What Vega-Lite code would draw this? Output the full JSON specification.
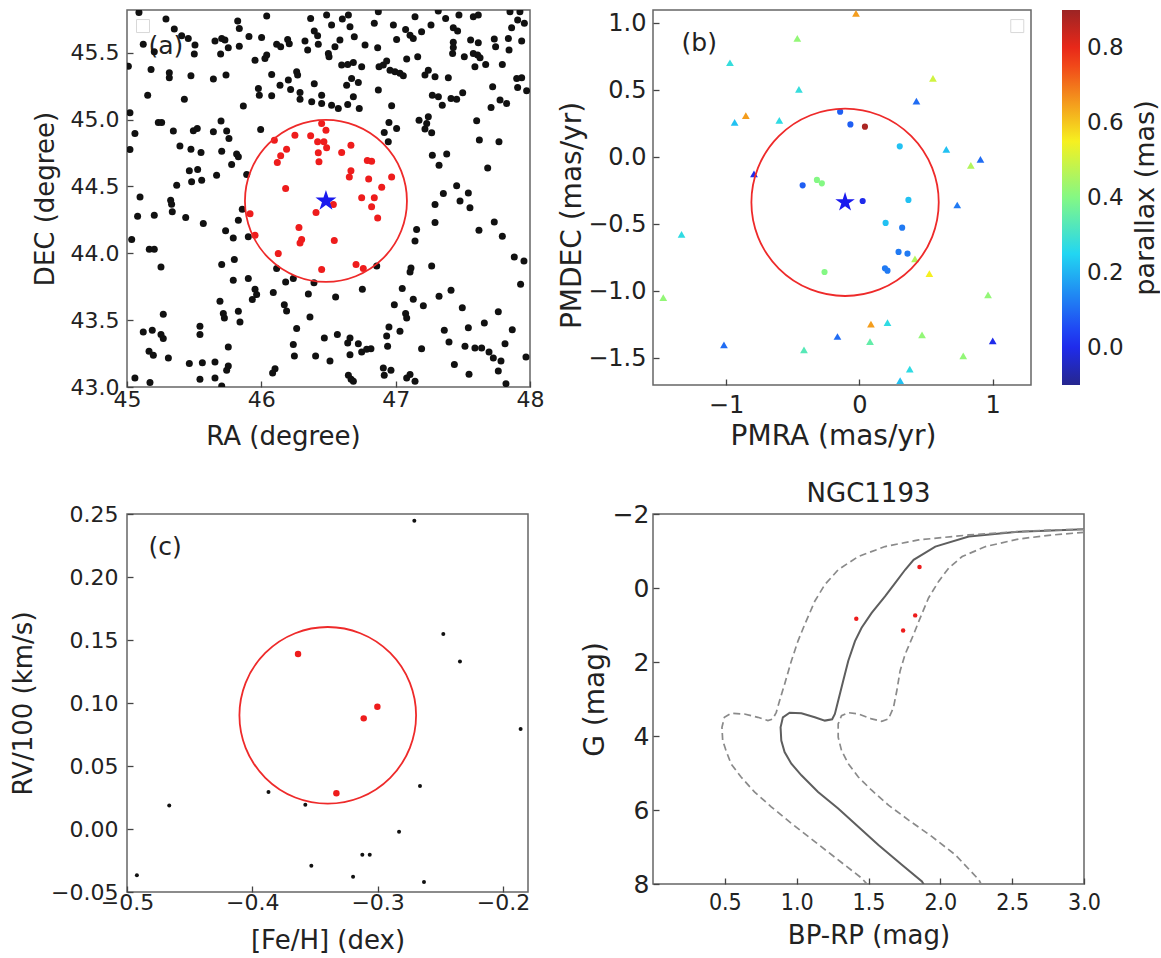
{
"$schema":"https://vega.github.io/schema/vega-lite/v6.json",
"background":"white",
"padding":{"left":9,"top":9,"right":0,"bottom":0},
"config":{
 "font":"DejaVu Sans",
 "view":{"stroke":"#666","strokeWidth":1.5},
 "axis":{"grid":false,"domain":false,"tickColor":"#444","tickWidth":1.3,"tickSize":-6,"labelColor":"#222","titleColor":"#222","titleFontWeight":"normal","labelFlush":false,"labelOverlap":false,"labelFont":"DejaVu Sans","titleFont":"DejaVu Sans"},
 "legend":{"labelFont":"DejaVu Sans","titleFont":"DejaVu Sans"},
 "title":{"font":"DejaVu Sans","fontWeight":"normal","color":"#222"}
},
"datasets":{
 "a_pts":[
{"ra":45.089,"dec":45.802,"m":"f"},{"ra":45.290,"dec":45.752,"m":"f"},{"ra":45.352,"dec":45.677,"m":"f"},{"ra":45.121,"dec":45.563,"m":"f"},{"ra":45.203,"dec":45.508,"m":"f"},{"ra":45.456,"dec":45.607,"m":"f"},{"ra":45.407,"dec":45.627,"m":"f"},{"ra":45.506,"dec":45.558,"m":"f"},{"ra":45.501,"dec":45.490,"m":"f"},{"ra":45.655,"dec":45.588,"m":"f"},
{"ra":45.705,"dec":45.607,"m":"f"},{"ra":45.729,"dec":45.595,"m":"f"},{"ra":45.754,"dec":45.538,"m":"f"},{"ra":45.697,"dec":45.490,"m":"f"},{"ra":45.824,"dec":45.737,"m":"f"},{"ra":45.836,"dec":45.682,"m":"f"},{"ra":45.908,"dec":45.622,"m":"f"},{"ra":45.836,"dec":45.548,"m":"f"},{"ra":46.002,"dec":45.615,"m":"f"},{"ra":46.040,"dec":45.775,"m":"f"},
{"ra":46.114,"dec":45.563,"m":"f"},{"ra":46.144,"dec":45.545,"m":"f"},{"ra":46.196,"dec":45.600,"m":"f"},{"ra":46.208,"dec":45.568,"m":"f"},{"ra":46.325,"dec":45.588,"m":"f"},{"ra":46.345,"dec":45.520,"m":"f"},{"ra":46.367,"dec":45.757,"m":"f"},{"ra":46.394,"dec":45.662,"m":"f"},{"ra":46.419,"dec":45.627,"m":"f"},{"ra":46.424,"dec":45.563,"m":"f"},
{"ra":46.040,"dec":45.483,"m":"f"},{"ra":46.027,"dec":45.458,"m":"f"},{"ra":45.953,"dec":45.445,"m":"f"},{"ra":45.010,"dec":45.400,"m":"f"},{"ra":45.179,"dec":45.375,"m":"f"},{"ra":45.315,"dec":45.350,"m":"f"},{"ra":45.315,"dec":45.313,"m":"f"},{"ra":45.476,"dec":45.328,"m":"f"},{"ra":45.643,"dec":45.303,"m":"f"},{"ra":45.737,"dec":45.333,"m":"f"},
{"ra":46.077,"dec":45.338,"m":"f"},{"ra":46.139,"dec":45.258,"m":"f"},{"ra":46.201,"dec":45.296,"m":"f"},{"ra":46.263,"dec":45.358,"m":"f"},{"ra":46.270,"dec":45.333,"m":"f"},{"ra":46.218,"dec":45.226,"m":"f"},{"ra":45.978,"dec":45.233,"m":"f"},{"ra":45.985,"dec":45.183,"m":"f"},{"ra":46.077,"dec":45.178,"m":"f"},{"ra":46.288,"dec":45.203,"m":"f"},
{"ra":46.288,"dec":45.153,"m":"f"},{"ra":46.394,"dec":45.268,"m":"f"},{"ra":46.375,"dec":45.133,"m":"f"},{"ra":46.449,"dec":45.183,"m":"f"},{"ra":46.449,"dec":45.121,"m":"f"},{"ra":45.154,"dec":45.183,"m":"f"},{"ra":45.427,"dec":45.153,"m":"f"},{"ra":45.866,"dec":45.101,"m":"f"},{"ra":45.022,"dec":45.051,"m":"f"},{"ra":45.233,"dec":44.979,"m":"f"},
{"ra":45.258,"dec":44.979,"m":"f"},{"ra":45.345,"dec":44.914,"m":"f"},{"ra":45.494,"dec":44.916,"m":"f"},{"ra":45.523,"dec":44.934,"m":"f"},{"ra":45.643,"dec":44.909,"m":"f"},{"ra":45.700,"dec":44.989,"m":"f"},{"ra":45.742,"dec":44.914,"m":"f"},{"ra":45.759,"dec":44.859,"m":"f"},{"ra":45.995,"dec":44.926,"m":"f"},{"ra":45.059,"dec":44.896,"m":"f"},
{"ra":45.022,"dec":44.777,"m":"f"},{"ra":45.394,"dec":44.802,"m":"f"},{"ra":45.476,"dec":44.779,"m":"f"},{"ra":45.551,"dec":44.754,"m":"f"},{"ra":45.705,"dec":44.764,"m":"f"},{"ra":45.816,"dec":44.742,"m":"f"},{"ra":45.829,"dec":44.722,"m":"f"},{"ra":45.779,"dec":44.664,"m":"f"},{"ra":45.464,"dec":44.617,"m":"f"},{"ra":45.526,"dec":44.627,"m":"f"},
{"ra":45.556,"dec":44.547,"m":"f"},{"ra":45.481,"dec":44.535,"m":"f"},{"ra":45.370,"dec":44.510,"m":"f"},{"ra":45.667,"dec":44.584,"m":"f"},{"ra":45.891,"dec":44.589,"m":"f"},
{"ra":46.486,"dec":45.782,"m":"f"},{"ra":46.523,"dec":45.707,"m":"f"},{"ra":46.603,"dec":45.752,"m":"f"},{"ra":46.648,"dec":45.782,"m":"f"},{"ra":46.660,"dec":45.695,"m":"f"},{"ra":46.692,"dec":45.620,"m":"f"},{"ra":46.585,"dec":45.595,"m":"f"},{"ra":46.548,"dec":45.545,"m":"f"},{"ra":46.499,"dec":45.495,"m":"f"},{"ra":46.504,"dec":45.470,"m":"f"},
{"ra":46.772,"dec":45.558,"m":"f"},{"ra":46.841,"dec":45.720,"m":"f"},{"ra":46.871,"dec":45.807,"m":"f"},{"ra":46.866,"dec":45.538,"m":"f"},{"ra":46.983,"dec":45.707,"m":"f"},{"ra":47.007,"dec":45.600,"m":"f"},{"ra":47.074,"dec":45.675,"m":"f"},{"ra":47.107,"dec":45.632,"m":"f"},{"ra":47.131,"dec":45.607,"m":"f"},{"ra":47.144,"dec":45.770,"m":"f"},
{"ra":47.193,"dec":45.657,"m":"f"},{"ra":47.263,"dec":45.707,"m":"f"},{"ra":47.317,"dec":45.812,"m":"f"},{"ra":47.372,"dec":45.757,"m":"f"},{"ra":47.429,"dec":45.687,"m":"f"},{"ra":47.461,"dec":45.662,"m":"f"},{"ra":47.471,"dec":45.782,"m":"f"},{"ra":47.578,"dec":45.770,"m":"f"},{"ra":47.615,"dec":45.782,"m":"f"},{"ra":47.558,"dec":45.595,"m":"f"},
{"ra":47.615,"dec":45.575,"m":"f"},{"ra":47.734,"dec":45.603,"m":"f"},{"ra":47.744,"dec":45.545,"m":"f"},{"ra":47.839,"dec":45.607,"m":"f"},{"ra":47.851,"dec":45.807,"m":"f"},{"ra":47.844,"dec":45.520,"m":"f"},{"ra":47.863,"dec":45.687,"m":"f"},{"ra":47.908,"dec":45.745,"m":"f"},{"ra":47.925,"dec":45.807,"m":"f"},{"ra":47.958,"dec":45.720,"m":"f"},
{"ra":47.938,"dec":45.588,"m":"f"},{"ra":47.429,"dec":45.578,"m":"f"},{"ra":47.429,"dec":45.540,"m":"f"},{"ra":47.424,"dec":45.495,"m":"f"},{"ra":47.511,"dec":45.470,"m":"f"},{"ra":47.578,"dec":45.495,"m":"f"},{"ra":47.610,"dec":45.483,"m":"f"},{"ra":47.628,"dec":45.463,"m":"f"},{"ra":47.590,"dec":45.395,"m":"f"},{"ra":47.670,"dec":45.413,"m":"f"},
{"ra":47.794,"dec":45.413,"m":"f"},{"ra":46.598,"dec":45.408,"m":"f"},{"ra":46.643,"dec":45.413,"m":"f"},{"ra":46.685,"dec":45.428,"m":"f"},{"ra":46.747,"dec":45.395,"m":"f"},{"ra":46.672,"dec":45.308,"m":"f"},{"ra":46.722,"dec":45.278,"m":"f"},{"ra":46.635,"dec":45.258,"m":"f"},{"ra":46.876,"dec":45.395,"m":"f"},{"ra":46.908,"dec":45.408,"m":"f"},
{"ra":46.933,"dec":45.438,"m":"f"},{"ra":46.958,"dec":45.370,"m":"f"},{"ra":46.995,"dec":45.358,"m":"f"},{"ra":47.032,"dec":45.346,"m":"f"},{"ra":47.057,"dec":45.328,"m":"f"},{"ra":47.082,"dec":45.453,"m":"f"},{"ra":47.164,"dec":45.470,"m":"f"},{"ra":47.218,"dec":45.333,"m":"f"},{"ra":47.243,"dec":45.370,"m":"f"},{"ra":47.293,"dec":45.321,"m":"f"},
{"ra":47.392,"dec":45.313,"m":"f"},{"ra":46.871,"dec":45.221,"m":"f"},{"ra":46.523,"dec":45.108,"m":"f"},{"ra":46.573,"dec":45.084,"m":"f"},{"ra":46.643,"dec":45.113,"m":"f"},{"ra":46.685,"dec":45.171,"m":"f"},{"ra":46.729,"dec":45.084,"m":"f"},{"ra":46.970,"dec":45.103,"m":"f"},{"ra":47.273,"dec":45.183,"m":"f"},{"ra":47.318,"dec":45.171,"m":"f"},
{"ra":47.347,"dec":45.108,"m":"f"},{"ra":47.412,"dec":45.158,"m":"f"},{"ra":47.454,"dec":45.153,"m":"f"},{"ra":47.499,"dec":45.201,"m":"f"},{"ra":47.722,"dec":45.246,"m":"f"},{"ra":47.710,"dec":45.091,"m":"f"},{"ra":47.777,"dec":45.146,"m":"f"},{"ra":47.826,"dec":45.121,"m":"f"},{"ra":47.901,"dec":45.308,"m":"f"},{"ra":47.938,"dec":45.313,"m":"f"},
{"ra":47.908,"dec":45.241,"m":"f"},{"ra":47.975,"dec":45.216,"m":"f"},{"ra":47.603,"dec":44.991,"m":"f"},{"ra":47.243,"dec":45.021,"m":"f"},{"ra":47.174,"dec":44.996,"m":"f"},{"ra":47.231,"dec":44.971,"m":"f"},{"ra":47.218,"dec":44.929,"m":"f"},{"ra":47.268,"dec":44.901,"m":"f"},{"ra":46.950,"dec":44.979,"m":"f"},{"ra":47.007,"dec":44.934,"m":"f"},
{"ra":46.915,"dec":44.904,"m":"f"},{"ra":46.945,"dec":44.834,"m":"f"},{"ra":47.623,"dec":44.847,"m":"f"},{"ra":47.769,"dec":44.834,"m":"f"},{"ra":47.273,"dec":44.734,"m":"f"},{"ra":47.380,"dec":44.742,"m":"f"},{"ra":47.323,"dec":44.659,"m":"f"},{"ra":47.685,"dec":44.639,"m":"f"},{"ra":47.355,"dec":44.447,"m":"f"},{"ra":47.454,"dec":44.505,"m":"f"},
{"ra":47.541,"dec":44.452,"m":"f"},
{"ra":45.097,"dec":44.422,"m":"f"},{"ra":45.325,"dec":44.397,"m":"f"},{"ra":45.332,"dec":44.367,"m":"f"},{"ra":45.337,"dec":44.310,"m":"f"},{"ra":45.079,"dec":44.278,"m":"f"},{"ra":45.203,"dec":44.285,"m":"f"},{"ra":45.437,"dec":44.268,"m":"f"},{"ra":45.568,"dec":44.223,"m":"f"},{"ra":45.858,"dec":44.330,"m":"f"},{"ra":45.829,"dec":44.248,"m":"f"},
{"ra":45.734,"dec":44.168,"m":"f"},{"ra":45.791,"dec":44.115,"m":"f"},{"ra":45.035,"dec":44.103,"m":"f"},{"ra":45.166,"dec":44.031,"m":"f"},{"ra":45.203,"dec":44.031,"m":"f"},{"ra":45.253,"dec":43.898,"m":"f"},{"ra":45.705,"dec":43.916,"m":"f"},{"ra":45.799,"dec":43.953,"m":"f"},{"ra":45.791,"dec":43.798,"m":"f"},{"ra":45.903,"dec":44.123,"m":"f"},
{"ra":45.903,"dec":43.811,"m":"f"},{"ra":45.953,"dec":43.731,"m":"f"},{"ra":45.965,"dec":43.691,"m":"f"},{"ra":45.933,"dec":43.654,"m":"f"},{"ra":46.114,"dec":43.886,"m":"f"},{"ra":46.089,"dec":43.706,"m":"f"},{"ra":46.181,"dec":43.786,"m":"f"},{"ra":46.238,"dec":43.811,"m":"f"},{"ra":46.392,"dec":43.779,"m":"f"},{"ra":46.350,"dec":43.696,"m":"f"},
{"ra":45.692,"dec":43.641,"m":"f"},{"ra":45.717,"dec":43.549,"m":"f"},{"ra":45.725,"dec":43.516,"m":"f"},{"ra":45.829,"dec":43.567,"m":"f"},{"ra":45.841,"dec":43.487,"m":"f"},{"ra":46.171,"dec":43.616,"m":"f"},{"ra":46.188,"dec":43.569,"m":"f"},{"ra":46.362,"dec":43.524,"m":"f"},{"ra":45.270,"dec":43.544,"m":"f"},{"ra":45.543,"dec":43.454,"m":"f"},
{"ra":45.543,"dec":43.392,"m":"f"},{"ra":45.121,"dec":43.412,"m":"f"},{"ra":45.188,"dec":43.424,"m":"f"},{"ra":45.253,"dec":43.392,"m":"f"},{"ra":45.270,"dec":43.362,"m":"f"},{"ra":45.164,"dec":43.267,"m":"f"},{"ra":45.196,"dec":43.237,"m":"f"},{"ra":45.308,"dec":43.217,"m":"f"},{"ra":45.754,"dec":43.300,"m":"f"},{"ra":45.464,"dec":43.175,"m":"f"},
{"ra":45.561,"dec":43.182,"m":"f"},{"ra":45.655,"dec":43.187,"m":"f"},{"ra":45.754,"dec":43.157,"m":"f"},{"ra":45.742,"dec":43.125,"m":"f"},{"ra":46.263,"dec":43.437,"m":"f"},{"ra":46.469,"dec":43.367,"m":"f"},{"ra":46.238,"dec":43.317,"m":"f"},{"ra":46.246,"dec":43.232,"m":"f"},{"ra":46.404,"dec":43.232,"m":"f"},{"ra":46.102,"dec":43.137,"m":"f"},
{"ra":46.084,"dec":43.105,"m":"f"},{"ra":45.059,"dec":43.068,"m":"f"},{"ra":45.171,"dec":43.033,"m":"f"},{"ra":45.543,"dec":43.058,"m":"f"},{"ra":45.655,"dec":43.068,"m":"f"},{"ra":45.705,"dec":43.008,"m":"f"},
{"ra":47.293,"dec":44.365,"m":"f"},{"ra":47.479,"dec":44.392,"m":"f"},{"ra":47.553,"dec":44.340,"m":"f"},{"ra":47.293,"dec":44.230,"m":"f"},{"ra":47.156,"dec":44.178,"m":"f"},{"ra":47.144,"dec":44.093,"m":"f"},{"ra":47.620,"dec":44.173,"m":"f"},{"ra":47.734,"dec":44.235,"m":"f"},{"ra":47.794,"dec":44.128,"m":"f"},{"ra":47.883,"dec":43.973,"m":"f"},
{"ra":47.955,"dec":43.943,"m":"f"},{"ra":47.930,"dec":43.769,"m":"f"},{"ra":46.859,"dec":43.906,"m":"f"},{"ra":47.114,"dec":43.891,"m":"f"},{"ra":47.107,"dec":43.861,"m":"f"},{"ra":47.268,"dec":43.906,"m":"f"},{"ra":46.752,"dec":43.731,"m":"f"},{"ra":46.553,"dec":43.674,"m":"f"},{"ra":47.049,"dec":43.736,"m":"f"},{"ra":47.131,"dec":43.656,"m":"f"},
{"ra":46.990,"dec":43.616,"m":"f"},{"ra":47.206,"dec":43.607,"m":"f"},{"ra":47.323,"dec":43.679,"m":"f"},{"ra":47.412,"dec":43.724,"m":"f"},{"ra":47.496,"dec":43.592,"m":"f"},{"ra":47.074,"dec":43.549,"m":"f"},{"ra":47.082,"dec":43.516,"m":"f"},{"ra":47.764,"dec":43.562,"m":"f"},{"ra":46.950,"dec":43.449,"m":"f"},{"ra":47.032,"dec":43.417,"m":"f"},
{"ra":46.933,"dec":43.382,"m":"f"},{"ra":46.940,"dec":43.305,"m":"f"},{"ra":47.362,"dec":43.424,"m":"f"},{"ra":47.541,"dec":43.444,"m":"f"},{"ra":47.660,"dec":43.479,"m":"f"},{"ra":47.868,"dec":43.429,"m":"f"},{"ra":47.397,"dec":43.337,"m":"f"},{"ra":47.516,"dec":43.305,"m":"f"},{"ra":47.590,"dec":43.292,"m":"f"},{"ra":47.640,"dec":43.292,"m":"f"},
{"ra":47.695,"dec":43.262,"m":"f"},{"ra":47.727,"dec":43.217,"m":"f"},{"ra":47.814,"dec":43.324,"m":"f"},{"ra":47.784,"dec":43.195,"m":"f"},{"ra":46.566,"dec":43.392,"m":"f"},{"ra":46.660,"dec":43.367,"m":"f"},{"ra":46.643,"dec":43.330,"m":"f"},{"ra":46.722,"dec":43.324,"m":"f"},{"ra":46.747,"dec":43.262,"m":"f"},{"ra":46.784,"dec":43.282,"m":"f"},
{"ra":46.816,"dec":43.287,"m":"f"},{"ra":46.660,"dec":43.242,"m":"f"},{"ra":47.193,"dec":43.287,"m":"f"},{"ra":46.511,"dec":43.195,"m":"f"},{"ra":47.970,"dec":43.225,"m":"f"},{"ra":47.437,"dec":43.168,"m":"f"},{"ra":47.764,"dec":43.120,"m":"f"},{"ra":47.546,"dec":43.095,"m":"f"},{"ra":46.908,"dec":43.142,"m":"f"},{"ra":46.965,"dec":43.125,"m":"f"},
{"ra":46.915,"dec":43.088,"m":"f"},{"ra":46.648,"dec":43.088,"m":"f"},{"ra":46.668,"dec":43.058,"m":"f"},{"ra":46.685,"dec":43.043,"m":"f"},{"ra":47.082,"dec":43.068,"m":"f"},{"ra":47.107,"dec":43.093,"m":"f"},{"ra":47.144,"dec":43.043,"m":"f"},{"ra":47.821,"dec":43.025,"m":"f"},
{"ra":46.449,"dec":44.971,"m":"c"},{"ra":46.481,"dec":44.921,"m":"c"},{"ra":46.097,"dec":44.846,"m":"c"},{"ra":46.250,"dec":44.884,"m":"c"},{"ra":46.367,"dec":44.879,"m":"c"},{"ra":46.419,"dec":44.834,"m":"c"},{"ra":46.466,"dec":44.834,"m":"c"},{"ra":46.486,"dec":44.789,"m":"c"},{"ra":46.188,"dec":44.779,"m":"c"},{"ra":46.144,"dec":44.729,"m":"c"},
{"ra":46.119,"dec":44.679,"m":"c"},{"ra":46.424,"dec":44.752,"m":"c"},{"ra":46.429,"dec":44.684,"m":"c"},{"ra":46.598,"dec":44.754,"m":"c"},{"ra":46.667,"dec":44.809,"m":"c"},{"ra":46.789,"dec":44.694,"m":"c"},{"ra":46.821,"dec":44.689,"m":"c"},{"ra":46.667,"dec":44.617,"m":"c"},{"ra":46.655,"dec":44.570,"m":"c"},{"ra":46.799,"dec":44.555,"m":"c"},
{"ra":46.970,"dec":44.570,"m":"c"},{"ra":46.896,"dec":44.495,"m":"c"},{"ra":46.181,"dec":44.485,"m":"c"},{"ra":46.747,"dec":44.415,"m":"c"},{"ra":46.841,"dec":44.415,"m":"c"},{"ra":46.821,"dec":44.348,"m":"c"},{"ra":46.866,"dec":44.265,"m":"c"},{"ra":46.536,"dec":44.365,"m":"c"},{"ra":46.407,"dec":44.305,"m":"c"},{"ra":45.916,"dec":44.295,"m":"c"},
{"ra":45.953,"dec":44.135,"m":"c"},{"ra":46.280,"dec":44.193,"m":"c"},{"ra":46.300,"dec":44.103,"m":"c"},{"ra":46.288,"dec":44.078,"m":"c"},{"ra":46.543,"dec":44.096,"m":"c"},{"ra":46.126,"dec":43.998,"m":"c"},{"ra":46.449,"dec":43.878,"m":"c"},{"ra":46.705,"dec":43.916,"m":"c"},{"ra":46.759,"dec":43.886,"m":"c"}
 ],
 "a_ctr":[{"ra":46.481,"dec":44.392}],
 "b_pts":[
{"pmra":-0.025,"pmdec":1.075,"plx":0.65,"k":"f"},{"pmra":-0.465,"pmdec":0.888,"plx":0.42,"k":"f"},{"pmra":-0.97,"pmdec":0.706,"plx":0.28,"k":"f"},{"pmra":-0.453,"pmdec":0.507,"plx":0.28,"k":"f"},{"pmra":0.552,"pmdec":0.59,"plx":0.5,"k":"f"},{"pmra":0.428,"pmdec":0.42,"plx":0.1,"k":"f"},{"pmra":-0.851,"pmdec":0.311,"plx":0.65,"k":"f"},{"pmra":-0.935,"pmdec":0.261,"plx":0.22,"k":"f"},{"pmra":-0.6,"pmdec":0.276,"plx":0.27,"k":"f"},{"pmra":0.652,"pmdec":0.06,"plx":0.22,"k":"f"},
{"pmra":0.908,"pmdec":-0.015,"plx":0.1,"k":"f"},{"pmra":0.836,"pmdec":-0.06,"plx":0.46,"k":"f"},{"pmra":-0.79,"pmdec":-0.124,"plx":0.0,"k":"f"},{"pmra":0.734,"pmdec":-0.356,"plx":0.12,"k":"f"},{"pmra":-1.333,"pmdec":-0.575,"plx":0.27,"k":"f"},{"pmra":0.417,"pmdec":-0.759,"plx":0.46,"k":"f"},{"pmra":0.525,"pmdec":-0.868,"plx":0.55,"k":"f"},{"pmra":-1.47,"pmdec":-1.047,"plx":0.42,"k":"f"},{"pmra":0.965,"pmdec":-1.027,"plx":0.42,"k":"f"},{"pmra":0.087,"pmdec":-1.246,"plx":0.65,"k":"f"},
{"pmra":0.211,"pmdec":-1.234,"plx":0.27,"k":"f"},{"pmra":-0.164,"pmdec":-1.338,"plx":0.1,"k":"f"},{"pmra":0.47,"pmdec":-1.326,"plx":0.42,"k":"f"},{"pmra":-1.015,"pmdec":-1.4,"plx":0.1,"k":"f"},{"pmra":-0.415,"pmdec":-1.438,"plx":0.33,"k":"f"},{"pmra":0.08,"pmdec":-1.376,"plx":0.35,"k":"f"},{"pmra":1.0,"pmdec":-1.371,"plx":0.0,"k":"f"},{"pmra":0.779,"pmdec":-1.483,"plx":0.42,"k":"f"},{"pmra":0.378,"pmdec":-1.582,"plx":0.27,"k":"f"},{"pmra":0.306,"pmdec":-1.667,"plx":0.22,"k":"f"},
{"pmra":-0.144,"pmdec":0.341,"plx":0.08,"k":"c"},{"pmra":-0.067,"pmdec":0.246,"plx":0.08,"k":"c"},{"pmra":0.042,"pmdec":0.229,"plx":0.88,"k":"c"},{"pmra":0.303,"pmdec":0.082,"plx":0.22,"k":"c"},{"pmra":-0.425,"pmdec":-0.209,"plx":0.08,"k":"c"},{"pmra":-0.318,"pmdec":-0.169,"plx":0.4,"k":"c"},{"pmra":-0.281,"pmdec":-0.194,"plx":0.4,"k":"c"},{"pmra":0.025,"pmdec":-0.326,"plx":0.0,"k":"c"},{"pmra":0.368,"pmdec":-0.318,"plx":0.22,"k":"c"},{"pmra":0.197,"pmdec":-0.49,"plx":0.22,"k":"c"},
{"pmra":0.321,"pmdec":-0.525,"plx":0.12,"k":"c"},{"pmra":0.294,"pmdec":-0.706,"plx":0.12,"k":"c"},{"pmra":0.361,"pmdec":-0.719,"plx":0.12,"k":"c"},{"pmra":0.192,"pmdec":-0.828,"plx":0.12,"k":"c"},{"pmra":0.211,"pmdec":-0.846,"plx":0.12,"k":"c"},{"pmra":-0.261,"pmdec":-0.856,"plx":0.4,"k":"c"}
 ],
 "b_ctr":[{"pmra":-0.107,"pmdec":-0.336}],
 "c_pts":[
{"feh":-0.2707,"rv":0.2447,"m":"f"},{"feh":-0.2476,"rv":0.1548,"m":"f"},{"feh":-0.2343,"rv":0.133,"m":"f"},{"feh":-0.1859,"rv":0.0794,"m":"f"},{"feh":-0.2662,"rv":0.0341,"m":"f"},{"feh":-0.3871,"rv":0.0294,"m":"f"},{"feh":-0.4663,"rv":0.0187,"m":"f"},{"feh":-0.3577,"rv":0.0193,"m":"f"},{"feh":-0.2829,"rv":-0.0021,"m":"f"},{"feh":-0.3122,"rv":-0.0204,"m":"f"},
{"feh":-0.3063,"rv":-0.0204,"m":"f"},{"feh":-0.3529,"rv":-0.0291,"m":"f"},{"feh":-0.4921,"rv":-0.0368,"m":"f"},{"feh":-0.3196,"rv":-0.0379,"m":"f"},{"feh":-0.263,"rv":-0.0421,"m":"f"},
{"feh":-0.3635,"rv":0.1389,"m":"c"},{"feh":-0.3002,"rv":0.0971,"m":"c"},{"feh":-0.3111,"rv":0.0878,"m":"c"},{"feh":-0.3329,"rv":0.0283,"m":"c"}
 ],
 "c_ctr":[{"feh":-0.3398,"rv":0.0902}],
 "d_iso":[
{"c":3.0,"g":-1.59,"s":"mid","i":0},{"c":2.548,"g":-1.523,"s":"mid","i":1},{"c":2.198,"g":-1.389,"s":"mid","i":2},{"c":1.965,"g":-1.12,"s":"mid","i":3},{"c":1.814,"g":-0.762,"s":"mid","i":4},{"c":1.755,"g":-0.493,"s":"mid","i":5},{"c":1.685,"g":-0.134,"s":"mid","i":6},{"c":1.615,"g":0.224,"s":"mid","i":7},{"c":1.522,"g":0.672,"s":"mid","i":8},{"c":1.452,"g":1.075,"s":"mid","i":9},
{"c":1.406,"g":1.434,"s":"mid","i":10},{"c":1.359,"g":1.971,"s":"mid","i":11},{"c":1.324,"g":2.509,"s":"mid","i":12},{"c":1.289,"g":3.047,"s":"mid","i":13},{"c":1.266,"g":3.405,"s":"mid","i":14},{"c":1.247,"g":3.548,"s":"mid","i":15},{"c":1.196,"g":3.584,"s":"mid","i":16},{"c":1.126,"g":3.495,"s":"mid","i":17},{"c":1.033,"g":3.387,"s":"mid","i":18},{"c":0.951,"g":3.369,"s":"mid","i":19},
{"c":0.904,"g":3.495,"s":"mid","i":20},{"c":0.888,"g":3.763,"s":"mid","i":21},{"c":0.893,"g":4.122,"s":"mid","i":22},{"c":0.916,"g":4.435,"s":"mid","i":23},{"c":0.963,"g":4.749,"s":"mid","i":24},{"c":1.033,"g":5.063,"s":"mid","i":25},{"c":1.149,"g":5.511,"s":"mid","i":26},{"c":1.289,"g":5.959,"s":"mid","i":27},{"c":1.429,"g":6.452,"s":"mid","i":28},{"c":1.569,"g":6.944,"s":"mid","i":29},
{"c":1.732,"g":7.482,"s":"mid","i":30},{"c":1.872,"g":7.93,"s":"mid","i":31},{"c":1.89,"g":8.05,"s":"mid","i":32},
{"c":3.0,"g":-1.586,"s":"lo","i":0},{"c":2.781,"g":-1.568,"s":"lo","i":1},{"c":2.548,"g":-1.523,"s":"lo","i":2},{"c":2.198,"g":-1.434,"s":"lo","i":3},{"c":1.848,"g":-1.299,"s":"lo","i":4},{"c":1.615,"g":-1.12,"s":"lo","i":5},{"c":1.429,"g":-0.851,"s":"lo","i":6},{"c":1.289,"g":-0.493,"s":"lo","i":7},{"c":1.196,"g":-0.09,"s":"lo","i":8},{"c":1.126,"g":0.358,"s":"lo","i":9},
{"c":1.056,"g":0.986,"s":"lo","i":10},{"c":1.009,"g":1.434,"s":"lo","i":11},{"c":0.963,"g":1.971,"s":"lo","i":12},{"c":0.916,"g":2.599,"s":"lo","i":13},{"c":0.881,"g":3.047,"s":"lo","i":14},{"c":0.858,"g":3.36,"s":"lo","i":15},{"c":0.834,"g":3.539,"s":"lo","i":16},{"c":0.8,"g":3.584,"s":"lo","i":17},{"c":0.73,"g":3.495,"s":"lo","i":18},{"c":0.636,"g":3.405,"s":"lo","i":19},
{"c":0.543,"g":3.387,"s":"lo","i":20},{"c":0.497,"g":3.495,"s":"lo","i":21},{"c":0.48,"g":3.763,"s":"lo","i":22},{"c":0.485,"g":4.122,"s":"lo","i":23},{"c":0.508,"g":4.391,"s":"lo","i":24},{"c":0.543,"g":4.749,"s":"lo","i":25},{"c":0.613,"g":5.108,"s":"lo","i":26},{"c":0.706,"g":5.511,"s":"lo","i":27},{"c":0.823,"g":5.914,"s":"lo","i":28},{"c":0.963,"g":6.362,"s":"lo","i":29},
{"c":1.126,"g":6.855,"s":"lo","i":30},{"c":1.289,"g":7.348,"s":"lo","i":31},{"c":1.452,"g":7.841,"s":"lo","i":32},{"c":1.5,"g":8.05,"s":"lo","i":33},
{"c":3.0,"g":-1.505,"s":"hi","i":0},{"c":2.781,"g":-1.434,"s":"hi","i":1},{"c":2.548,"g":-1.326,"s":"hi","i":2},{"c":2.315,"g":-1.12,"s":"hi","i":3},{"c":2.152,"g":-0.851,"s":"hi","i":4},{"c":2.058,"g":-0.538,"s":"hi","i":5},{"c":1.988,"g":-0.179,"s":"hi","i":6},{"c":1.918,"g":0.269,"s":"hi","i":7},{"c":1.86,"g":0.806,"s":"hi","i":8},{"c":1.814,"g":1.254,"s":"hi","i":9},
{"c":1.755,"g":1.792,"s":"hi","i":10},{"c":1.72,"g":2.24,"s":"hi","i":11},{"c":1.697,"g":2.778,"s":"hi","i":12},{"c":1.674,"g":3.226,"s":"hi","i":13},{"c":1.639,"g":3.539,"s":"hi","i":14},{"c":1.592,"g":3.602,"s":"hi","i":15},{"c":1.522,"g":3.539,"s":"hi","i":16},{"c":1.429,"g":3.405,"s":"hi","i":17},{"c":1.359,"g":3.369,"s":"hi","i":18},{"c":1.312,"g":3.45,"s":"hi","i":19},
{"c":1.289,"g":3.674,"s":"hi","i":20},{"c":1.289,"g":4.032,"s":"hi","i":21},{"c":1.312,"g":4.391,"s":"hi","i":22},{"c":1.359,"g":4.749,"s":"hi","i":23},{"c":1.429,"g":5.108,"s":"hi","i":24},{"c":1.522,"g":5.466,"s":"hi","i":25},{"c":1.639,"g":5.869,"s":"hi","i":26},{"c":1.779,"g":6.272,"s":"hi","i":27},{"c":1.942,"g":6.72,"s":"hi","i":28},{"c":2.105,"g":7.213,"s":"hi","i":29},
{"c":2.268,"g":7.885,"s":"hi","i":30},{"c":2.29,"g":8.05,"s":"hi","i":31}
 ],
 "d_pts":[{"c":1.855,"g":-0.57},{"c":1.415,"g":0.83},{"c":1.825,"g":0.74},{"c":1.741,"g":1.15}]
},
"spacing":12,
"resolve":{"legend":{"color":"independent","shape":"independent","size":"independent"}},
"hconcat":[
 {"vconcat":[
  {"width":403,"height":377,
   "layer":[
    {"data":{"values":[{}]},"mark":{"type":"text","text":"(a)","fontSize":25,"color":"#222"},
     "encoding":{
      "x":{"datum":45.29,"type":"quantitative","scale":{"domain":[45,48],"zero":false,"nice":false},
           "axis":{"values":[45,46,47,48],"format":"d","title":"RA (degree)","labelFontSize":22,"titleFontSize":26,"labelPadding":8,"titlePadding":13,"titleX":156}},
      "y":{"datum":45.55,"type":"quantitative","scale":{"domain":[43,45.82],"zero":false,"nice":false},
           "axis":{"values":[43,43.5,44,44.5,45,45.5],"format":".1f","title":"DEC (degree)","labelFontSize":22,"titleFontSize":26,"labelPadding":14,"titlePadding":12}}}},
    {"data":{"values":[{}]},"mark":{"type":"point","shape":"square","size":169,"filled":false,"stroke":"#d8d8d8","strokeWidth":1,"opacity":1},
     "encoding":{"x":{"datum":45.119,"type":"quantitative"},"y":{"datum":45.70,"type":"quantitative"}}},
    {"data":{"name":"a_pts"},"mark":{"type":"point","shape":"circle","filled":true,"size":49,"opacity":1,"clip":true},
     "encoding":{"x":{"field":"ra","type":"quantitative"},"y":{"field":"dec","type":"quantitative"},
      "color":{"field":"m","type":"nominal","scale":{"domain":["f","c"],"range":["#111111","#ee1c1c"]},"legend":null}}},
    {"data":{"name":"a_ctr"},"mark":{"type":"point","shape":"circle","filled":false,"size":26244,"stroke":"#ee2a2a","strokeWidth":1.8,"opacity":1,"clip":true},
     "encoding":{"x":{"field":"ra","type":"quantitative"},"y":{"field":"dec","type":"quantitative"}}},
    {"data":{"name":"a_ctr"},"mark":{"type":"point","shape":"M0,-1L0.2245,-0.309L0.9511,-0.309L0.3633,0.118L0.5878,0.809L0,0.382L-0.5878,0.809L-0.3633,0.118L-0.9511,-0.309L-0.2245,-0.309Z","filled":true,"size":484,"color":"#1a1aee","opacity":1},
     "encoding":{"x":{"field":"ra","type":"quantitative"},"y":{"field":"dec","type":"quantitative"}}}
   ]},
  {"width":401,"height":378,
   "layer":[
    {"data":{"values":[{}]},"mark":{"type":"text","text":"(c)","fontSize":25,"color":"#222"},
     "encoding":{
      "x":{"datum":-0.4695,"type":"quantitative","scale":{"domain":[-0.5,-0.18],"zero":false,"nice":false},
           "axis":{"values":[-0.5,-0.4,-0.3,-0.2],"format":".1f","title":"[Fe/H] (dex)","labelFontSize":22,"titleFontSize":26,"labelPadding":6,"titlePadding":14}},
      "y":{"datum":0.224,"type":"quantitative","scale":{"domain":[-0.05,0.25],"zero":false,"nice":false},
           "axis":{"values":[-0.05,0,0.05,0.1,0.15,0.2,0.25],"format":".2f","title":"RV/100 (km/s)","labelFontSize":22,"titleFontSize":26,"labelPadding":15,"titlePadding":14}}}},
    {"data":{"name":"c_pts"},"mark":{"type":"point","shape":"circle","filled":true,"opacity":1,"clip":true},
     "encoding":{"x":{"field":"feh","type":"quantitative"},"y":{"field":"rv","type":"quantitative"},
      "color":{"field":"m","type":"nominal","scale":{"domain":["f","c"],"range":["#111111","#ee1c1c"]},"legend":null},
      "size":{"field":"m","type":"ordinal","scale":{"domain":["f","c"],"range":[16,42]},"legend":null}}},
    {"data":{"name":"c_ctr"},"mark":{"type":"point","shape":"circle","filled":false,"size":31211,"stroke":"#ee2a2a","strokeWidth":1.8,"opacity":1,"clip":true},
     "encoding":{"x":{"field":"feh","type":"quantitative"},"y":{"field":"rv","type":"quantitative"}}}
   ]}
 ],"spacing":127,"bounds":"flush"},
 {"vconcat":[
  {"width":378,"height":375,
   "layer":[
    {"data":{"values":[{}]},"mark":{"type":"text","text":"(b)","fontSize":25,"color":"#222"},
     "encoding":{
      "x":{"datum":-1.2,"type":"quantitative","scale":{"domain":[-1.547,1.287],"zero":false,"nice":false},
           "axis":{"values":[-1,0,1],"format":"d","title":"PMRA (mas/yr)","labelFontSize":24,"titleFontSize":28,"labelPadding":14,"titlePadding":5,"titleX":180}},
      "y":{"datum":0.857,"type":"quantitative","scale":{"domain":[-1.7,1.1],"zero":false,"nice":false},
           "axis":{"values":[-1.5,-1,-0.5,0,0.5,1],"format":".1f","title":"PMDEC (mas/yr)","labelFontSize":24,"titleFontSize":28,"labelPadding":13,"titlePadding":1,"titleY":205}}}},
    {"data":{"values":[{}]},"mark":{"type":"point","shape":"square","size":169,"filled":false,"stroke":"#d8d8d8","strokeWidth":1,"opacity":1},
     "encoding":{"x":{"datum":1.184,"type":"quantitative"},"y":{"datum":0.98,"type":"quantitative"}}},
    {"data":{"name":"b_pts"},"transform":[{"filter":"datum.k === 'f'"}],
     "mark":{"type":"point","shape":"triangle-up","size":60,"filled":true,"opacity":1,"clip":true},
     "encoding":{"x":{"field":"pmra","type":"quantitative"},"y":{"field":"pmdec","type":"quantitative"},
      "color":{"field":"plx","type":"quantitative",
        "scale":{"domain":[-0.1,0.01,0.25,0.4,0.55,0.79,0.9],"range":["#26268e","#1e2cf4","#22d6f2","#84f884","#f6f020","#f02818","#9c2424"],"interpolate":"rgb"},
        "legend":{"orient":"right","offset":31,"padding":0,"direction":"vertical","gradientLength":375,"gradientThickness":18,"gradientStrokeWidth":0,
          "values":[0,0.2,0.4,0.6,0.8],"format":".1f","labelFontSize":23,"labelColor":"#222","labelOffset":7,
          "title":"parallax (mas)","titleOrient":"right","titleAnchor":"middle","titleFontSize":27,"titleFontWeight":"normal","titleColor":"#222","titlePadding":9,"titleLimit":500,
          "encoding":{"title":{"angle":{"value":-90},"baseline":{"value":"top"}}}}}}},
    {"data":{"name":"b_pts"},"transform":[{"filter":"datum.k === 'c'"}],
     "mark":{"type":"point","shape":"circle","size":38,"filled":true,"opacity":1,"clip":true},
     "encoding":{"x":{"field":"pmra","type":"quantitative"},"y":{"field":"pmdec","type":"quantitative"},
      "color":{"field":"plx","type":"quantitative"}}},
    {"data":{"name":"b_ctr"},"mark":{"type":"point","shape":"circle","filled":false,"size":35100,"stroke":"#ee2a2a","strokeWidth":1.8,"opacity":1,"clip":true},
     "encoding":{"x":{"field":"pmra","type":"quantitative"},"y":{"field":"pmdec","type":"quantitative"}}},
    {"data":{"name":"b_ctr"},"mark":{"type":"point","shape":"M0,-1L0.2245,-0.309L0.9511,-0.309L0.3633,0.118L0.5878,0.809L0,0.382L-0.5878,0.809L-0.3633,0.118L-0.9511,-0.309L-0.2245,-0.309Z","filled":true,"size":420,"color":"#1a1aee","opacity":1},
     "encoding":{"x":{"field":"pmra","type":"quantitative"},"y":{"field":"pmdec","type":"quantitative"}}}
   ]},
  {"width":431,"height":370,
   "title":{"text":"NGC1193","fontSize":26,"offset":-5,"frame":"group","anchor":"middle"},
   "layer":[
    {"data":{"name":"d_iso"},"transform":[{"filter":"datum.s === 'mid'"}],
     "mark":{"type":"line","color":"#5e5e5e","strokeWidth":2,"clip":true},
     "encoding":{
      "x":{"field":"c","type":"quantitative","scale":{"domain":[0,3],"zero":false,"nice":false},
           "axis":{"values":[0.5,1,1.5,2,2.5,3],"format":".1f","title":"BP-RP (mag)","labelFont":"DejaVu Sans Condensed, DejaVu Sans","labelFontSize":23,"titleFontSize":26,"labelPadding":13,"titlePadding":8}},
      "y":{"field":"g","type":"quantitative","scale":{"domain":[-2,8],"reverse":true,"zero":false,"nice":false},
           "axis":{"values":[-2,0,2,4,6,8],"format":"d","title":"G (mag)","labelFontSize":25,"titleFontSize":28,"labelPadding":10,"titlePadding":3}},
      "order":{"field":"i","type":"quantitative"}}},
    {"data":{"name":"d_iso"},"transform":[{"filter":"datum.s !== 'mid'"}],
     "mark":{"type":"line","color":"#8a8a8a","strokeWidth":1.7,"strokeDash":[7,4],"clip":true},
     "encoding":{"x":{"field":"c","type":"quantitative"},"y":{"field":"g","type":"quantitative"},
      "detail":{"field":"s","type":"nominal"},"order":{"field":"i","type":"quantitative"}}},
    {"data":{"name":"d_pts"},"mark":{"type":"point","shape":"circle","filled":true,"size":20,"color":"#ee1c1c","opacity":1,"clip":true},
     "encoding":{"x":{"field":"c","type":"quantitative"},"y":{"field":"g","type":"quantitative"}}}
   ]}
 ],"spacing":129,"bounds":"flush","resolve":{"legend":{"color":"independent","shape":"independent","size":"independent"}}}
]
}
